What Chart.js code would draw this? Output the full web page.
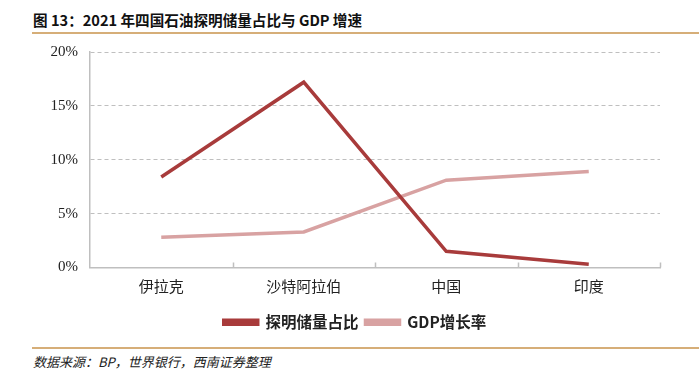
<!DOCTYPE html>
<html>
<head>
<meta charset="utf-8">
<script src="https://cdn.jsdelivr.net/npm/chart.js@4/dist/chart.umd.min.js"></script>
<style>
  body { margin: 0; background: #fff; }
  #wrap { position: relative; width: 699px; height: 371px; overflow: hidden; }
  #title { position: absolute; left: 33px; top: 9px; font: bold 14.6px "Noto Sans CJK SC", sans-serif; color: #111; white-space: nowrap; }
  #titleLine { position: absolute; left: 32px; right: 0; top: 32px; height: 2px; background: #d6ae78; }
  #footLine { position: absolute; left: 32px; right: 0; top: 347px; height: 2px; background: #d6ae78; }
  #foot { position: absolute; left: 33px; top: 352px; font: italic 13px "Noto Sans CJK SC", sans-serif; color: #222; white-space: nowrap; }
  #chart { position: absolute; left: 0; top: 0; }
</style>
</head>
<body>
<div id="wrap">
  <div id="title">图 13：2021 年四国石油探明储量占比与 GDP 增速</div>
  <div id="titleLine"></div>
  <canvas id="chart" width="699" height="340"></canvas>
  <div id="footLine"></div>
  <div id="foot">数据来源：BP，世界银行，西南证券整理</div>
</div>
<script>
// data (percent)
const countries = ['伊拉克', '沙特阿拉伯', '中国', '印度'];
const reserveShare = [8.4, 17.2, 1.5, 0.3];
const gdpGrowth = [2.8, 3.3, 8.1, 8.9];
const yTicks = [0, 5, 10, 15, 20];

const darkRed = '#a83b3b';
const lightRed = '#d8a2a2';

// small inside ticks on the category boundaries
const boundaryTicks = {
  id: 'boundaryTicks',
  afterDraw(chart) {
    const x = chart.scales.x;
    const ctx = chart.ctx;
    const bottom = chart.chartArea.bottom;
    const step = x.getPixelForValue(1) - x.getPixelForValue(0);
    ctx.save();
    ctx.strokeStyle = '#bfbfbf';
    ctx.lineWidth = 1.5;
    for (let i = 0; i < countries.length; i++) {
      const px = Math.round(x.getPixelForValue(i) + step / 2) + 0.5;
      ctx.beginPath();
      ctx.moveTo(px, bottom);
      ctx.lineTo(px, bottom - 5);
      ctx.stroke();
    }
    ctx.restore();
  }
};

const ctx = document.getElementById('chart').getContext('2d');
new Chart(ctx, {
  type: 'line',
  data: {
    labels: countries,
    datasets: [{
      label: '探明储量占比',
      data: reserveShare,
      borderColor: darkRed,
      backgroundColor: darkRed,
      borderWidth: 3.5,
      pointRadius: 0,
      tension: 0
    }, {
      label: 'GDP增长率',
      data: gdpGrowth,
      borderColor: lightRed,
      backgroundColor: lightRed,
      borderWidth: 3.5,
      pointRadius: 0,
      tension: 0
    }]
  },
  options: {
    responsive: false,
    animation: false,
    layout: { padding: { left: 50, right: 39, top: 52, bottom: 0 } },
    plugins: {
      legend: {
        position: 'bottom',
        labels: {
          boxWidth: 34,
          boxHeight: 4,
          padding: 7,
          color: '#222',
          font: { family: '"Noto Sans CJK SC", sans-serif', size: 15.5, weight: 'bold' }
        }
      },
      tooltip: { enabled: false }
    },
    scales: {
      x: {
        offset: true,
        grid: { display: false, drawTicks: false },
        border: { display: true, color: '#bfbfbf', width: 1.5 },
        ticks: {
          padding: 10,
          color: '#222',
          font: { family: '"Noto Sans CJK SC", sans-serif', size: 15 }
        },
        afterFit(scale) { scale.height = 40; }
      },
      y: {
        min: 0,
        max: 20,
        afterBuildTicks(scale) { scale.ticks = yTicks.map(v => ({ value: v })); },
        grid: {
          color: '#bfbfbf',
          lineWidth: 1,
          drawTicks: false
        },
        border: { display: true, color: '#bfbfbf', width: 1.5, dash: [4, 3] },
        ticks: {
          padding: 12,
          color: '#222',
          font: { family: '"Liberation Serif", serif', size: 15 },
          callback: v => v + '%'
        },
        afterFit(scale) { scale.width = 40; }
      }
    }
  },
  plugins: [boundaryTicks]
});
</script>
</body>
</html>
